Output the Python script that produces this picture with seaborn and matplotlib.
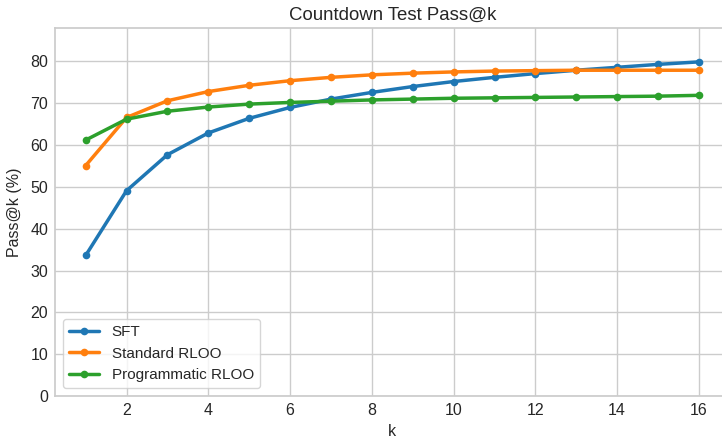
import numpy as np
import pandas as pd
import matplotlib
matplotlib.use("Agg")
import matplotlib.pyplot as plt
import seaborn as sns

k = list(range(1, 17))
sft = [33.6, 49.1, 57.7, 62.9, 66.4, 69.0, 71.0, 72.6, 74.0, 75.2, 76.2, 77.1, 77.9, 78.6, 79.3, 79.9]
standard = [55.1, 66.6, 70.6, 72.8, 74.3, 75.4, 76.2, 76.8, 77.2, 77.5, 77.7, 77.8, 77.9, 77.9, 77.9, 77.9]
programmatic = [61.2, 66.2, 68.1, 69.1, 69.8, 70.2, 70.5, 70.8, 71.0, 71.2, 71.3, 71.4, 71.5, 71.6, 71.7, 71.9]
series_names = ["SFT", "Standard RLOO", "Programmatic RLOO"]

df = pd.concat([
    pd.DataFrame({"k": k, "Pass@k": vals, "Method": name})
    for name, vals in zip(series_names, [sft, standard, programmatic])
])

sns.set_theme(style="whitegrid")
plt.rcParams["font.family"] = ["Liberation Sans", "DejaVu Sans"]
plt.rcParams["text.color"] = "#262626"
fig = plt.figure(figsize=(7.22, 4.37), dpi=100)
ax = fig.add_axes([55/722, 41/437, 674.6/722, 368/437])

sns.lineplot(data=df, x="k", y="Pass@k", hue="Method", marker="o",
             palette=["#1f77b4", "#ff7f0e", "#2ca02c"], linewidth=2.5,
             markersize=5.5, markeredgewidth=0, ax=ax)

ax.set_xlim(0.25, 16.75)
ax.set_ylim(0, 88)
ax.set_xticks([2, 4, 6, 8, 10, 12, 14, 16])
ax.set_yticks(range(0, 81, 10))
ax.set_title("Countdown Test Pass@k", fontsize=13.4, pad=6)
ax.set_xlabel("k", fontsize=11.5, labelpad=4)
ax.set_ylabel("Pass@k (%)", fontsize=11.5, labelpad=6)
ax.tick_params(labelsize=11.5, length=0, pad=5)
ax.legend(loc="lower left", fontsize=11, title=None)

fig.savefig("out.png", dpi=100)
